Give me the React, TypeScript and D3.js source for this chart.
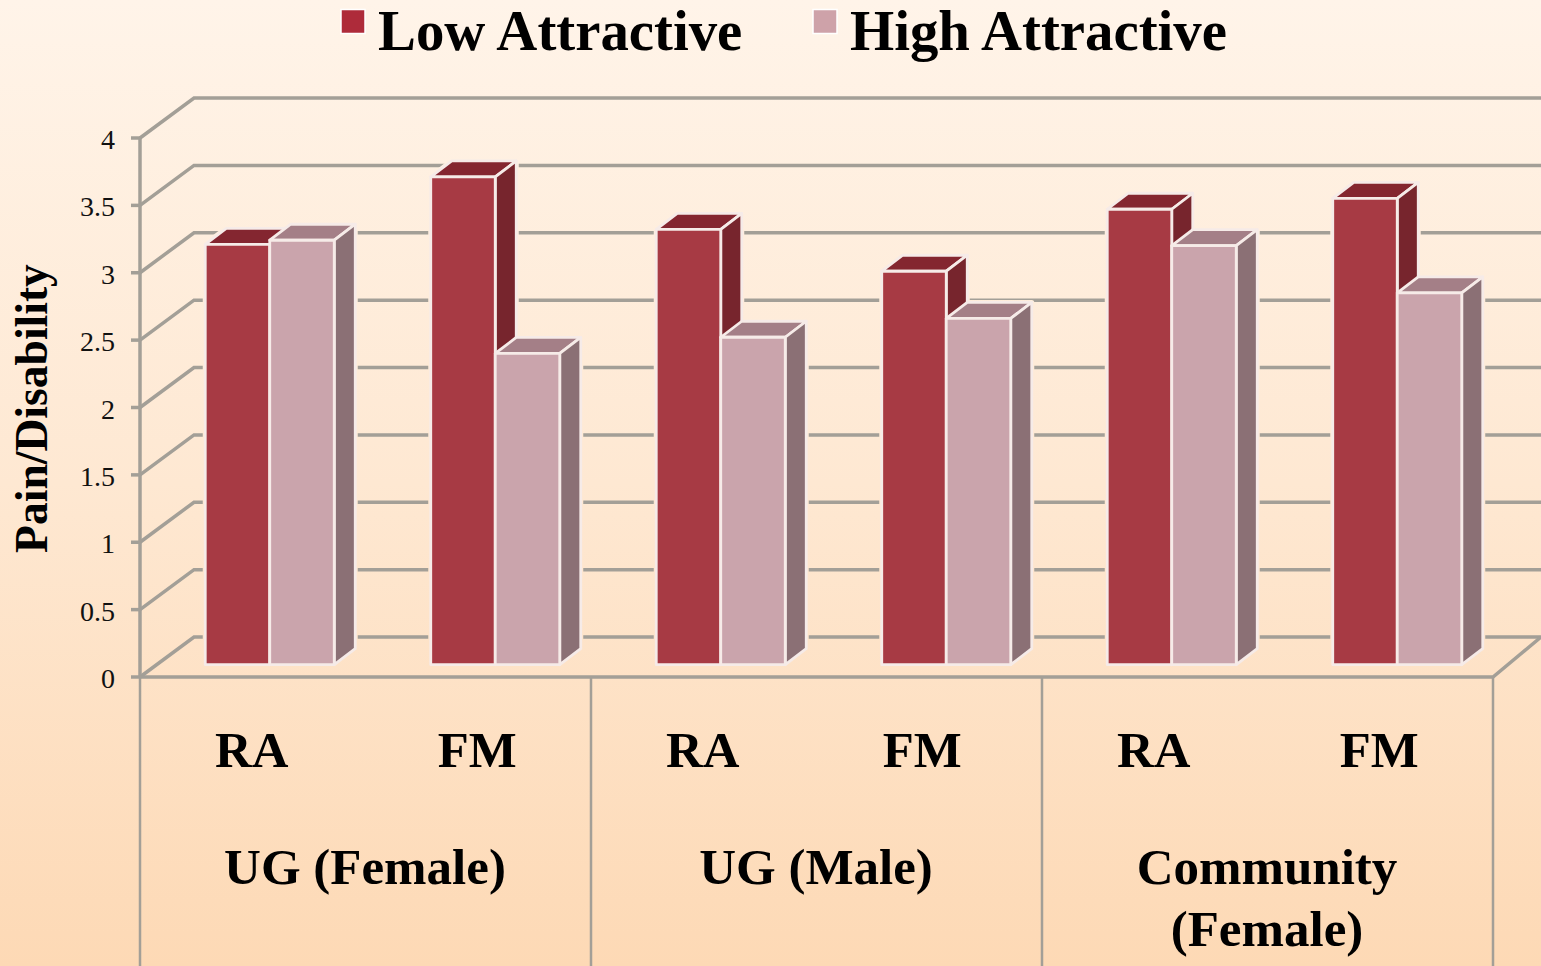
import React from "react";
import * as d3 from "d3";

const W = 1541;
const H = 966;
const subLabels = ["RA", "FM", "RA", "FM", "RA", "FM"];
const barKeys = ["a", "b", "c", "d", "e", "f"];
const groupLabels = [["UG (Female)"], ["UG (Male)"], ["Community", "(Female)"]];
const yTicks = [0, 0.5, 1, 1.5, 2, 2.5, 3, 3.5, 4];
const lowValues = [3.12, 3.62, 3.23, 2.92, 3.38, 3.46];
const highValues = [3.15, 2.31, 2.43, 2.57, 3.11, 2.76];
const seriesNames = ["Low Attractive", "High Attractive"];

const serif = "'Liberation Serif', 'Times New Roman', serif";
const gridColor = "#a39f97";
const lowColors = { front: "#a73a44", top: "#842630", side: "#77252d", key: "#ae2b3a" };
const highColors = { front: "#caa4ac", top: "#a47f87", side: "#8b7075", key: "#cea2a9" };

const y = d3.scaleLinear().domain([0, 4]).range([677, 138]);
const xBand = d3.scaleBand().domain(barKeys).range([140, 1493]);
const xGroup = d3.scaleBand().domain(["0", "1", "2"]).range([140, 1493]);
const xInner = d3.scaleBand().domain(["low", "high"]).range([-47.5, 81.5]);

const wallDx = 54;
const wallDy = -40;
const depthDx = 21;
const depthDy = -16;
const baseShift = -12.3;

function Bar({ x, w, value, colors }: any) {
  const bottom = y(0) + baseShift;
  const top = y(value) + baseShift;
  const r = x + w;
  const pts = (a: number[][]) => a.map((p) => p.join(",")).join(" ");
  const edge = { stroke: "#f6ebe8", strokeWidth: 2.8, strokeLinejoin: "round" as const };
  return (
    <g>
      <polygon points={pts([[x, top], [x + depthDx, top + depthDy], [r + depthDx, top + depthDy], [r, top]])} fill={colors.top} {...edge} />
      <polygon points={pts([[r, top], [r + depthDx, top + depthDy], [r + depthDx, bottom + depthDy], [r, bottom]])} fill={colors.side} {...edge} />
      <rect x={x} y={top} width={w} height={bottom - top} fill={colors.front} {...edge} />
    </g>
  );
}

function Halo({ x, w, value }: any) {
  const bottom = y(0) + baseShift;
  const top = y(value) + baseShift;
  const r = x + w;
  const d = [[x, top], [x + depthDx, top + depthDy], [r + depthDx, top + depthDy], [r + depthDx, bottom + depthDy], [r, bottom], [x, bottom]];
  return <polygon points={d.map((p) => p.join(",")).join(" ")} fill="url(#bg)" stroke="url(#bg)" strokeWidth={5} strokeLinejoin="round" />;
}

export default function App() {
  const w = xInner.bandwidth();
  const bars = barKeys.map((k, i) => ({
    cx: (xBand(k) as number) + xBand.bandwidth() / 2,
    low: lowValues[i],
    high: highValues[i],
  }));
  return (
    <svg width={W} height={H} viewBox={`0 0 ${W} ${H}`} style={{ position: "absolute", left: 0, top: 0, display: "block" }}>
      <defs>
        <linearGradient id="bg" gradientUnits="userSpaceOnUse" x1="0" y1="0" x2="0" y2={H}>
          <stop offset="0" stopColor="#fff4e9" />
          <stop offset="0.5" stopColor="#fee8d2" />
          <stop offset="1" stopColor="#fdd9b5" />
        </linearGradient>
      </defs>
      <rect width={W} height={H} fill="url(#bg)" />

      {/* Legend */}
      <g fontFamily={serif} fontWeight="bold" fontSize={56.8} fill="#000">
        <rect x={341} y={9.5} width={24} height={24} fill={lowColors.key} stroke="#fff" strokeWidth={1.5} />
        <text x={378} y={50}>{seriesNames[0]}</text>
        <rect x={813} y={9.5} width={24} height={24} fill={highColors.key} stroke="#fff" strokeWidth={1.5} />
        <text x={850} y={50}>{seriesNames[1]}</text>
      </g>

      {/* Walls and gridlines */}
      <g stroke={gridColor} strokeWidth={3.5} fill="none">
        {yTicks.map((t) => (
          <polyline key={t} points={`${W},${y(t) + wallDy} ${140 + wallDx},${y(t) + wallDy} 140,${y(t)}`} />
        ))}
        <line x1={140} x2={140} y1={y(4)} y2={y(0)} />
        {yTicks.map((t) => (
          <line key={t} x1={131} x2={140} y1={y(t)} y2={y(t)} />
        ))}
        <polyline points={`140,${y(0)} 1493,${y(0)} ${W},${y(0) + wallDy}`} />
      </g>
      <g stroke={gridColor} strokeWidth={2.5}>
        {[0, 1, 2, 3].map((i) => {
          const x = 140 + i * xGroup.bandwidth();
          return <line key={i} x1={x} x2={x} y1={y(0)} y2={H} />;
        })}
      </g>

      {/* Bars */}
      {bars.map((b, i) => {
        const lx = b.cx + (xInner("low") as number);
        const hx = b.cx + (xInner("high") as number);
        return (
          <g key={i}>
            <Halo x={lx} w={w} value={b.low} />
            <Halo x={hx} w={w} value={b.high} />
            <Bar x={lx} w={w} value={b.low} colors={lowColors} />
            <Bar x={hx} w={w} value={b.high} colors={highColors} />
          </g>
        );
      })}

      {/* Y axis labels */}
      <g fontFamily={serif} fontSize={28} fill="#111" textAnchor="end">
        {yTicks.map((t) => (
          <text key={t} x={115} y={y(t) + 11}>{String(t)}</text>
        ))}
      </g>
      <text transform="translate(47,408.5) rotate(-90)" textAnchor="middle" fontFamily={serif} fontWeight="bold" fontSize={45.6} fill="#000">
        Pain/Disability
      </text>

      {/* Category labels */}
      <g fontFamily={serif} fontWeight="bold" fill="#000" textAnchor="middle">
        {subLabels.map((s, i) => (
          <text key={i} fontSize={50.8} x={(xBand(barKeys[i]) as number) + xBand.bandwidth() / 2 - (i === 3 ? 7 : 1)} y={767}>{s}</text>
        ))}
        {groupLabels.map((lines, i) =>
          lines.map((s, j) => (
            <text key={s} fontSize={51} x={(xGroup(String(i)) as number) + xGroup.bandwidth() / 2 - 0.5} y={883.5 + j * 62}>{s}</text>
          ))
        )}
      </g>
    </svg>
  );
}
